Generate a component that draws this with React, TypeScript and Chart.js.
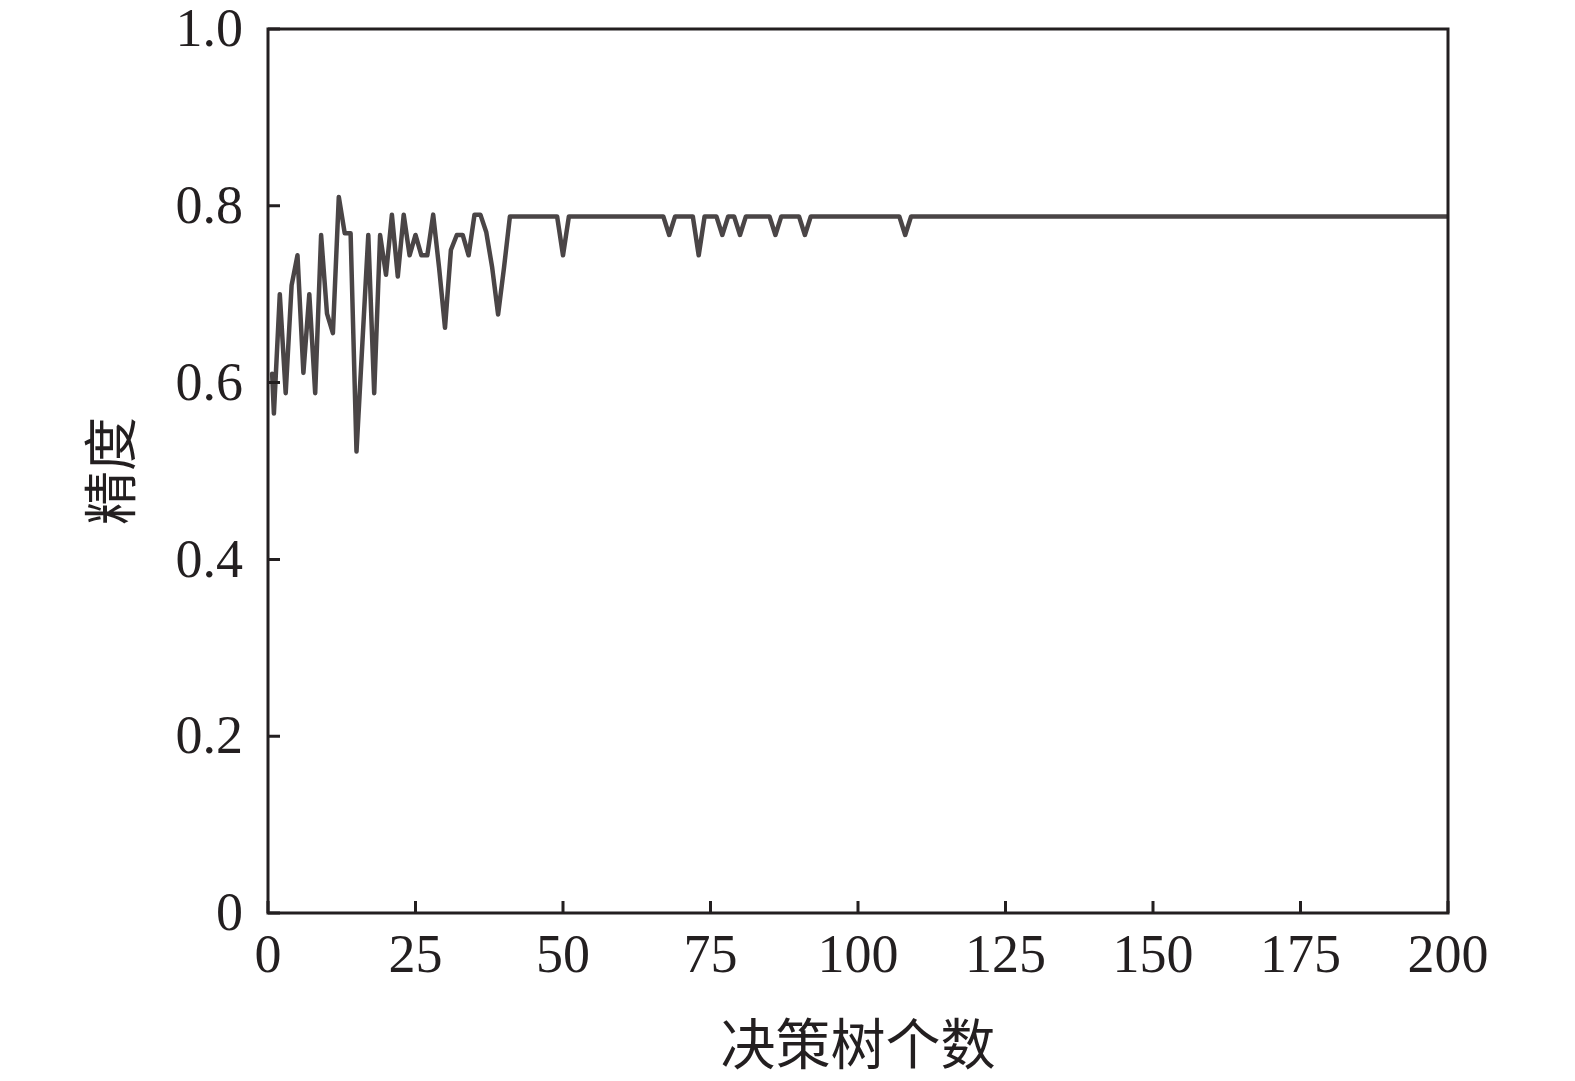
import React, { useEffect, useRef } from "react";
import { Chart, registerables } from "chart.js";

Chart.register(...registerables);

// Number of decision trees (x) and accuracy (y), vertices
const treeCounts: number[] = [
  0.7, 1, 2, 3, 4, 5, 6, 7, 8, 9, 10, 11, 12, 13, 14, 15, 16, 17, 18, 19, 20,
  21, 22, 23, 24, 25, 26, 27, 28, 29, 30, 31, 32, 33, 34, 35, 36, 37, 38, 39, 40,
  41, 49, 50, 51, 67, 68, 69, 72, 73, 74, 76, 77, 78, 79, 80, 81, 85, 86, 87,
  90, 91, 92, 107, 108, 109, 200,
];
const accuracy: number[] = [
  0.61, 0.565, 0.70, 0.588, 0.71, 0.744, 0.611, 0.70, 0.588, 0.767, 0.678,
  0.656, 0.81, 0.769, 0.769, 0.522, 0.645, 0.767, 0.588, 0.767, 0.722,
  0.79, 0.72, 0.79, 0.744, 0.767, 0.744, 0.744, 0.79, 0.73, 0.662,
  0.75, 0.767, 0.767, 0.744, 0.79, 0.79, 0.77, 0.73, 0.677, 0.73,
  0.788, 0.788, 0.744, 0.788, 0.788, 0.767, 0.788, 0.788, 0.744, 0.788,
  0.788, 0.767, 0.788, 0.788, 0.767, 0.788, 0.788, 0.767, 0.788,
  0.788, 0.767, 0.788, 0.788, 0.767, 0.788, 0.788,
];
const xTicks: number[] = [0, 25, 50, 75, 100, 125, 150, 175, 200];
const yTicks: number[] = [0, 0.2, 0.4, 0.6, 0.8, 1.0];
const xTitle = "决策树个数";
const yTitle = "精度";

const AXIS_COLOR = "#231f20";
const LINE_COLOR = "#4a4546";
const FONT = "'Liberation Serif', 'Noto Sans CJK SC', serif";

const framePlugin = {
  id: "frameAndInnerTicks",
  afterDraw(chart: any) {
    const { ctx, chartArea, scales } = chart;
    const { left, right, top, bottom } = chartArea;
    ctx.save();
    ctx.strokeStyle = AXIS_COLOR;
    ctx.lineWidth = 3;
    ctx.beginPath();
    ctx.rect(left, top, right - left, bottom - top);
    ctx.stroke();
    ctx.beginPath();
    for (const v of yTicks) {
      const y = scales.y.getPixelForValue(v);
      ctx.moveTo(left, y);
      ctx.lineTo(left + 12, y);
    }
    for (const v of xTicks) {
      const x = scales.x.getPixelForValue(v);
      ctx.moveTo(x, bottom);
      ctx.lineTo(x, bottom - 12);
    }
    ctx.stroke();
    ctx.restore();
  },
};

export default function App() {
  const ref = useRef<HTMLCanvasElement | null>(null);
  useEffect(() => {
    if (!ref.current) return;
    const data = treeCounts.map((x, i) => ({ x, y: accuracy[i] }));
    const chart = new Chart(ref.current, {
      type: "line",
      data: {
        datasets: [
          {
            data,
            borderColor: LINE_COLOR,
            borderWidth: 4.5,
            borderJoinStyle: "round",
            borderCapStyle: "round",
            pointRadius: 0,
            tension: 0,
            fill: false,
          },
        ],
      },
      options: {
        animation: false,
        responsive: false,
        devicePixelRatio: 1,
        layout: { padding: { top: 29, right: 127, left: 0, bottom: 0 } },
        plugins: { legend: { display: false }, tooltip: { enabled: false } },
        scales: {
          x: {
            type: "linear",
            min: 0,
            max: 200,
            afterBuildTicks: (s: any) => {
              s.ticks = xTicks.map((v) => ({ value: v }));
            },
            afterFit: (s: any) => {
              s.height = 168;
              s.paddingLeft = 0;
              s.paddingRight = 0;
            },
            grid: { display: false, drawTicks: false },
            border: { display: false },
            ticks: {
              color: AXIS_COLOR,
              padding: 18,
              maxRotation: 0,
              font: { family: FONT, size: 54, lineHeight: 1 },
              callback: (v: any) => String(v),
            },
            title: {
              display: true,
              text: xTitle,
              color: AXIS_COLOR,
              padding: { top: 0, bottom: -2 },
              font: { family: FONT, size: 55, lineHeight: 1.2 },
            },
          },
          y: {
            type: "linear",
            min: 0,
            max: 1,
            afterBuildTicks: (s: any) => {
              s.ticks = yTicks.map((v) => ({ value: v }));
            },
            afterFit: (s: any) => {
              s.width = 268;
              s.paddingTop = 0;
              s.paddingBottom = 0;
            },
            grid: { display: false, drawTicks: false },
            border: { display: false },
            ticks: {
              color: AXIS_COLOR,
              padding: 25,
              labelOffset: 3,
              font: { family: FONT, size: 54, lineHeight: 1 },
              callback: (v: any) => (v === 0 ? "0" : Number(v).toFixed(1)),
            },
            title: {
              display: true,
              text: yTitle,
              color: AXIS_COLOR,
              padding: { top: 84, bottom: 0 },
              font: { family: FONT, size: 54, lineHeight: 1.2 },
            },
          },
        },
      },
      plugins: [framePlugin],
    });
    return () => chart.destroy();
  }, []);

  return (
    <div style={{ position: "fixed", left: 0, top: 0, width: 1575, height: 1081, background: "#fff" }}>
      <canvas ref={ref} width={1575} height={1081} style={{ width: 1575, height: 1081, display: "block" }} />
    </div>
  );
}
